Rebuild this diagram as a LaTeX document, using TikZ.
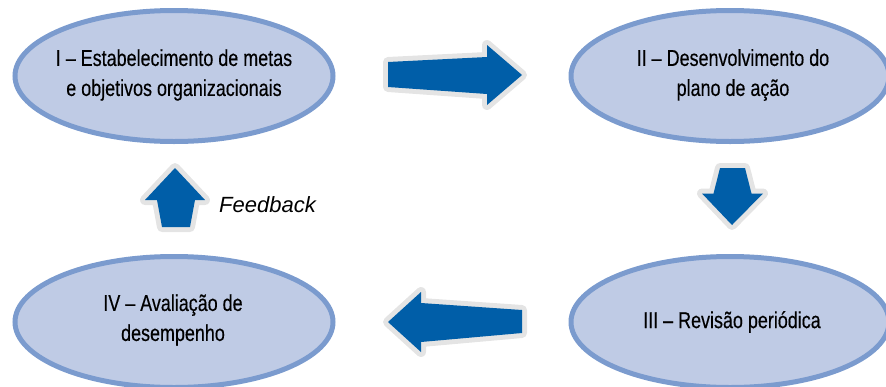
\documentclass[tikz,border=0pt]{standalone}
\usepackage{fontspec}
\setmainfont{Liberation Sans}
\newfontfamily\condfont{Liberation Sans}[FakeStretch=0.78, FakeBold=0.3]
\newfontfamily\plainsans{Liberation Sans}
\usetikzlibrary{shapes.geometric}
\definecolor{stagefill}{HTML}{BFCBE5}
\definecolor{stageline}{HTML}{7B9BCE}
\definecolor{arrowblue}{HTML}{005EA8}
\definecolor{arrowhalo}{HTML}{E4E4E4}
\tikzset{
  stage/.style={ellipse, draw=stageline, fill=stagefill, line width=5pt,
    minimum width=318pt, minimum height=131pt, inner sep=0pt},
  stagetext/.style={align=center, inner sep=0pt,
    font=\condfont\fontsize{23}{30}\selectfont},
  blockarrow/.style={fill=arrowblue,
    preaction={draw=arrowhalo, line width=10pt, line join=round}},
}
\begin{document}
\begin{tikzpicture}[x=1pt, y=-1pt]
  \useasboundingbox (0,0) rectangle (886,386);
  \clip (0,0) rectangle (886,386);

  % the four stages of the cycle
  \node[stage] (s1) at (174,76)  {};
  \node[stage] (s2) at (730,76)  {};
  \node[stage] (s3) at (730,322) {};
  \node[stage] (s4) at (174,322) {};

  \node[stagetext] (t1) at (174,75)  {I – Estabelecimento de metas\\e objetivos organizacionais};
  \node[stagetext] (t2) at (733,75)  {II – Desenvolvimento do\\plano de ação};
  \node[stagetext] (t3) at (732,322) {III – Revisão periódica};
  \node[stagetext] (t4) at (173,320) {IV – Avaliação de\\desempenho};

  % block arrows between the stages
  \path[blockarrow] (388,62) -- (487,57) -- (487,45) -- (522,75)
    -- (487,105) -- (487,94) -- (388,87) -- cycle;
  \path[blockarrow] (720,168) -- (745,168) -- (751.5,193.5) -- (763,193.5)
    -- (732,225) -- (702,193.5) -- (713.5,193.5) -- cycle;
  \path[blockarrow] (522,310) -- (421,303) -- (421,292) -- (388,322)
    -- (421,352) -- (421,342) -- (522,333) -- cycle;
  \path[blockarrow] (162,227) -- (157,200) -- (145,200) -- (175,168)
    -- (205,200) -- (195,200) -- (190,227) -- cycle;

  \node[anchor=base west, inner sep=0pt, font=\plainsans\itshape\fontsize{22}{26}\selectfont]
    (fb) at (219,212) {Feedback};
\end{tikzpicture}
\end{document}
